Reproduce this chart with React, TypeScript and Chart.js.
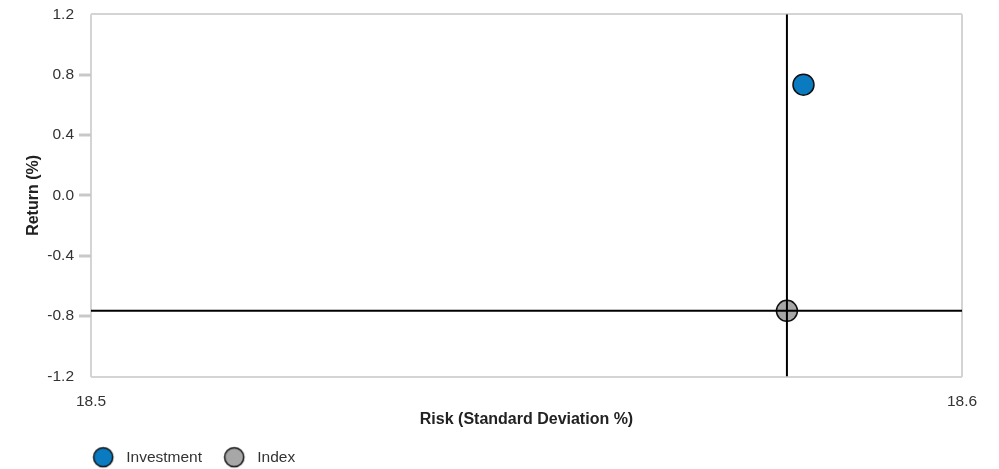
import React, { useEffect, useRef } from 'react';
import { Chart, registerables } from 'chart.js';

Chart.register(...registerables);

// ---- data ----
const seriesNames = ['Investment', 'Index'];
const riskValues = [18.5818, 18.5799];
const returnValues = [0.734, -0.765];
const seriesColors = ['#0a7bc1', '#a7a7a7'];
const benchmarkIndex = 1;
const xTickValues = [18.5, 18.6];
const yTickValues = [-1.2, -0.8, -0.4, 0.0, 0.4, 0.8, 1.2];
const xTitle = 'Risk (Standard Deviation %)';
const yTitle = 'Return (%)';

const FONT = '"Liberation Sans", Arial, Helvetica, sans-serif';
const FRAME = '#d4d4d4';
const TICKMARK = '#c8c8c8';
const LEGEND_LEFT = 71;

function makeLegendDot(color: string, shift: number) {
  const c = document.createElement('canvas');
  const r = 9.6;
  const w = Math.ceil(2 * (Math.abs(shift) + r + 2));
  const h = Math.ceil(2 * (r + 2));
  c.width = w;
  c.height = h;
  const g = c.getContext('2d')!;
  g.beginPath();
  g.arc(w / 2 + shift, h / 2, r, 0, Math.PI * 2);
  g.fillStyle = color;
  g.fill();
  g.lineWidth = 1.5;
  g.strokeStyle = '#111';
  g.stroke();
  return c;
}

const legendShift = {
  id: 'legendShift',
  afterLayout(chart: any) {
    if (chart.legend) chart.legend.left = LEGEND_LEFT;
  },
};

export default function App() {
  const ref = useRef<HTMLCanvasElement | null>(null);

  useEffect(() => {
    if (!ref.current) return;
    const dots = seriesColors.map((c) => makeLegendDot(c, 6));
    const yLast = yTickValues.length - 1;

    const pointDatasets = seriesNames.map((name, i) => ({
      label: name,
      data: [{ x: riskValues[i], y: returnValues[i] }],
      backgroundColor: seriesColors[i],
      borderColor: '#111',
      borderWidth: 1.5,
      pointRadius: 10.5,
      order: 2,
    }));

    const crossV = {
      label: '_crossV',
      data: [
        { x: riskValues[benchmarkIndex], y: yTickValues[0] },
        { x: riskValues[benchmarkIndex], y: yTickValues[yLast] },
      ],
      showLine: true,
      pointRadius: 0,
      borderColor: '#000',
      borderWidth: 2,
      order: 1,
    };
    const crossH = {
      label: '_crossH',
      data: [
        { x: xTickValues[0], y: returnValues[benchmarkIndex] },
        { x: xTickValues[xTickValues.length - 1], y: returnValues[benchmarkIndex] },
      ],
      showLine: true,
      pointRadius: 0,
      borderColor: '#000',
      borderWidth: 2,
      order: 1,
    };

    const chart = new Chart(ref.current, {
      type: 'scatter',
      data: { datasets: [...pointDatasets, crossV, crossH] as any },
      plugins: [legendShift],
      options: {
        animation: false,
        responsive: false,
        events: [],
        layout: { padding: { left: 0, right: 37, top: 13, bottom: -6 } },
        plugins: {
          tooltip: { enabled: false },
          legend: {
            position: 'bottom',
            align: 'start',
            labels: {
              usePointStyle: true,
              pointStyleWidth: 42.45,
              padding: 5,
              color: '#333',
              font: { family: FONT, size: 15.5 },
              generateLabels: (c: any) =>
                (Chart.defaults.plugins.legend.labels.generateLabels as any)(c)
                  .filter((l: any) => l.datasetIndex < seriesNames.length)
                  .map((l: any) => ({ ...l, pointStyle: dots[l.datasetIndex] })),
            },
          },
        },
        scales: {
          x: {
            type: 'linear',
            min: xTickValues[0],
            max: xTickValues[xTickValues.length - 1],
            afterBuildTicks: (s: any) => {
              s.ticks = xTickValues.map((v) => ({ value: v }));
            },
            ticks: {
              padding: 16,
              maxRotation: 0,
              autoSkip: false,
              color: '#333',
              font: { family: FONT, size: 15.5 },
              callback: (v: any) => Number(v).toFixed(1),
            },
            grid: { color: FRAME, lineWidth: 2, drawTicks: false },
            border: { display: false },
            title: {
              display: true,
              text: xTitle,
              color: '#222',
              font: { family: FONT, size: 16, weight: 'bold' },
              padding: { top: -17.2, bottom: 15.4 },
            },
          },
          y: {
            type: 'linear',
            min: yTickValues[0],
            max: yTickValues[yLast],
            afterBuildTicks: (s: any) => {
              s.ticks = yTickValues.map((v) => ({ value: v }));
            },
            afterFit: (s: any) => {
              s.width = 91;
            },
            ticks: {
              padding: 5,
              autoSkip: false,
              color: '#333',
              font: { family: FONT, size: 15.5 },
              callback: (v: any) => Number(v).toFixed(1),
            },
            grid: {
              color: (ctx: any) => (ctx.index === 0 || ctx.index === yLast ? FRAME : 'rgba(0,0,0,0)'),
              tickColor: (ctx: any) => (ctx.index === 0 || ctx.index === yLast ? 'rgba(0,0,0,0)' : TICKMARK),
              lineWidth: 2,
              tickWidth: 3,
              tickLength: 12,
            },
            border: { display: false },
            title: {
              display: true,
              text: yTitle,
              color: '#222',
              font: { family: FONT, size: 16, weight: 'bold' },
              padding: { top: 23.5, bottom: 0 },
            },
          },
        },
      } as any,
    });
    return () => chart.destroy();
  }, []);

  return (
    <div style={{ position: 'absolute', left: 0, top: 0, width: 999, height: 469, background: '#fff' }}>
      <canvas ref={ref} width={999} height={469} style={{ display: 'block', width: 999, height: 469 }} />
    </div>
  );
}
